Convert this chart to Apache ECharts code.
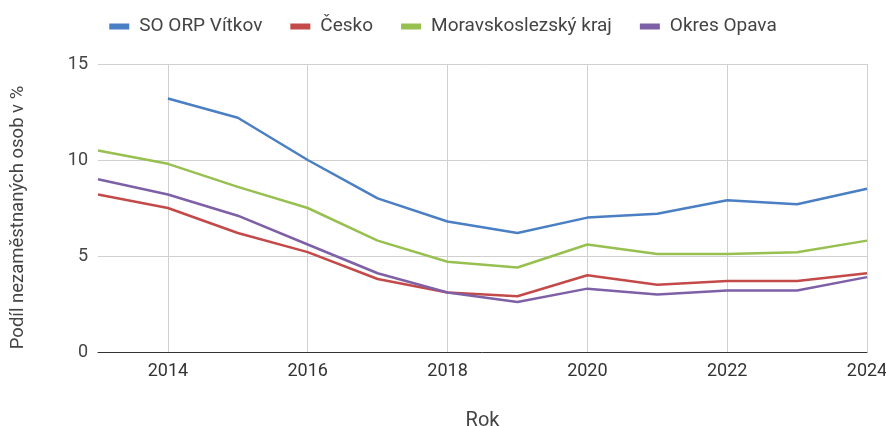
<!DOCTYPE html>
<html>
<head>
<meta charset="utf-8">
<script src="https://cdn.jsdelivr.net/npm/echarts@6/dist/echarts.min.js"></script>
<style>html,body{margin:0;padding:0;background:#fff}#c{width:886px;height:426px}</style>
</head>
<body>
<div id="c"></div>
<script>
const years = [2013,2014,2015,2016,2017,2018,2019,2020,2021,2022,2023,2024];
const vitkov = [null,13.2,12.2,10.0,8.0,6.8,6.2,7.0,7.2,7.9,7.7,8.5];
const cesko = [8.2,7.5,6.2,5.2,3.8,3.1,2.9,4.0,3.5,3.7,3.7,4.1];
const msk = [10.5,9.8,8.6,7.5,5.8,4.7,4.4,5.6,5.1,5.1,5.2,5.8];
const opava = [9.0,8.2,7.1,5.6,4.1,3.1,2.6,3.3,3.0,3.2,3.2,3.9];
const seriesNames = ['SO ORP Vítkov','Česko','Moravskoslezský kraj','Okres Opava'];
const colors = ['#4a7fc4','#c44a4a','#97c050','#7e60a6'];
const yTicks = [0,5,10,15];

function pairs(arr){ return years.map((y,i)=>[y,arr[i]]).filter(p=>p[1]!==null); }

const chart = echarts.init(document.getElementById('c'), null, {renderer:'canvas'});
const font = 'Roboto, "Liberation Sans", sans-serif';
chart.setOption({
  animation:false,
  color: colors,
  legend:{
    top: 12, left:'center',
    icon:'rect', itemWidth:20, itemHeight:6, itemGap:28,
    textStyle:{fontFamily:font, fontSize:19, color:'#444', padding:[0,0,0,5]},
    data: seriesNames
  },
  grid:{left:98, right:19, top:64, bottom:74, containLabel:false, outerBoundsMode:'none'},
  xAxis:{
    type:'value', min:2013, max:2024, interval:1,
    name:'Rok', nameLocation:'middle', nameGap:59,
    nameTextStyle:{fontFamily:font, fontSize:20, color:'#444'},
    axisLine:{show:true, lineStyle:{color:'#333', width:1}},
    axisTick:{show:false},
    axisLabel:{fontFamily:font, fontSize:18, color:'#333', margin:10,
      formatter: v => (v % 2 === 0 ? String(v) : '')},
    splitLine:{show:true, lineStyle:{color:['rgba(0,0,0,0)','#d0d0d0'], width:1}}
  },
  yAxis:{
    type:'value', min:yTicks[0], max:yTicks[yTicks.length-1], interval:5,
    name:'Podíl nezaměstnaných osob v %', nameLocation:'middle', nameGap:70,
    nameTextStyle:{fontFamily:font, fontSize:18.5, color:'#444', padding:[0,19,0,0]},
    axisLine:{show:false}, axisTick:{show:false},
    axisLabel:{fontFamily:font, fontSize:18, color:'#444', margin:10},
    splitLine:{show:true, lineStyle:{color:'#d0d0d0', width:1}}
  },
  series:[vitkov,cesko,msk,opava].map((d,i)=>({
    name: seriesNames[i], type:'line', data: pairs(d),
    showSymbol:false, symbol:'none',
    lineStyle:{width:2.5, color:colors[i]},
    itemStyle:{color:colors[i]}
  }))
});
</script>
</body>
</html>
